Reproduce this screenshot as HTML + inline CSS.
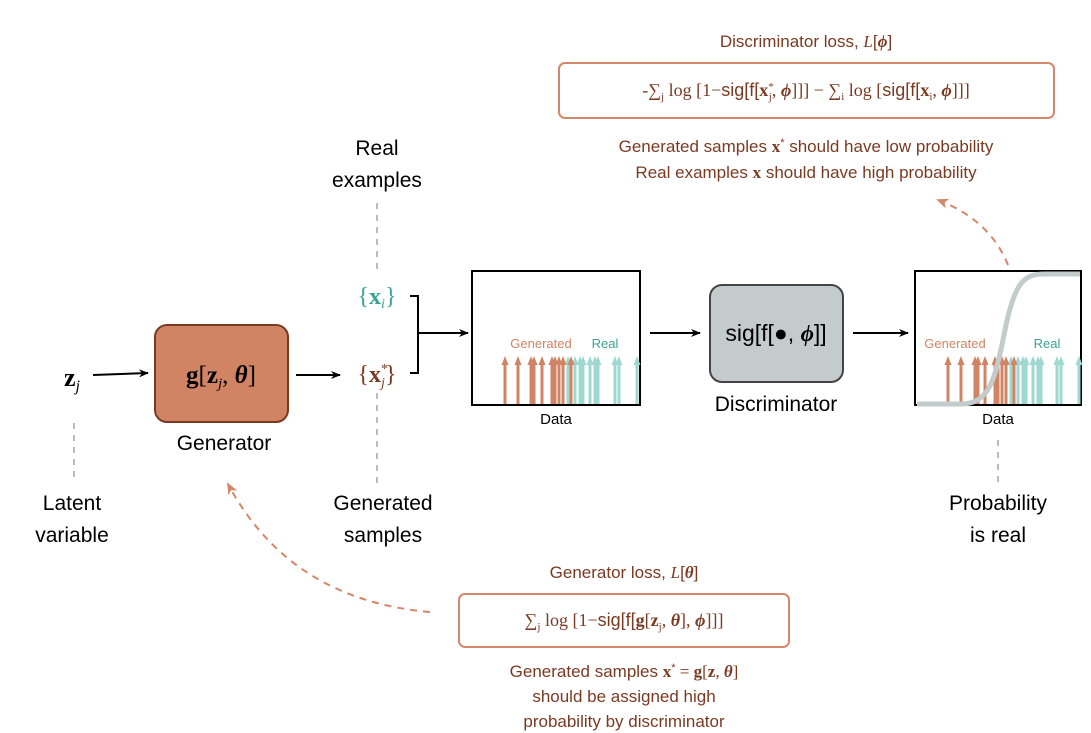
<!DOCTYPE html>
<html><head><meta charset="utf-8"><style>
body{margin:0;background:#fff;}
svg{display:block;font-family:"Liberation Sans",sans-serif;}
.m{font-family:"Liberation Serif",serif;}
</style></head><body>
<svg width="1091" height="733" viewBox="0 0 1091 733">
<defs>
<marker id="ak" markerWidth="10" markerHeight="8" refX="9" refY="4" orient="auto" markerUnits="userSpaceOnUse"><path d="M0,0 L10,4 L0,8 L3,4z" fill="#000"/></marker>
<marker id="ao" markerWidth="12" markerHeight="10" refX="10" refY="5" orient="auto" markerUnits="userSpaceOnUse"><path d="M0,0 L12,5 L0,10 L3,5z" fill="#d4876a"/></marker>
<marker id="ho" markerWidth="9" markerHeight="7" refX="1" refY="3.5" orient="auto" markerUnits="userSpaceOnUse"><path d="M0,0 L9,3.5 L0,7z" fill="#d08464"/></marker>
<marker id="ht" markerWidth="9" markerHeight="7" refX="1" refY="3.5" orient="auto" markerUnits="userSpaceOnUse"><path d="M0,0 L9,3.5 L0,7z" fill="#9fd8d1"/></marker>
</defs>

<!-- top loss -->
<text x="806" y="47" font-size="17" fill="#7a3a22" text-anchor="middle">Discriminator loss, <tspan class="m" font-style="italic">L</tspan>[<tspan class="m" font-weight="bold" font-style="italic">ϕ</tspan>]</text>
<rect x="559" y="63" width="495" height="55" rx="6" fill="#fff" stroke="#d4876a" stroke-width="2"/>
<text x="806" y="96" font-size="18" fill="#7a3a22" text-anchor="middle" class="m">-∑<tspan font-size="11" dy="4">j</tspan><tspan dy="-4"> log [1−</tspan><tspan font-family="Liberation Sans">sig[f[</tspan><tspan font-weight="bold">x</tspan><tspan font-size="11" dy="-6">*</tspan><tspan font-size="11" dx="-5" dy="10">j</tspan><tspan dy="-4">, </tspan><tspan font-weight="bold" font-style="italic">ϕ</tspan>]]] − ∑<tspan font-size="11" dy="4">i</tspan><tspan dy="-4"> log [</tspan><tspan font-family="Liberation Sans">sig[f[</tspan><tspan font-weight="bold">x</tspan><tspan font-size="11" dy="4">i</tspan><tspan dy="-4">, </tspan><tspan font-weight="bold" font-style="italic">ϕ</tspan>]]]</text>
<text x="806" y="152" font-size="17" fill="#7a3a22" text-anchor="middle">Generated samples <tspan class="m" font-weight="bold">x</tspan><tspan font-size="11" dy="-6">*</tspan><tspan dy="6"> should have low probability</tspan></text>
<text x="806" y="178" font-size="17" fill="#7a3a22" text-anchor="middle">Real examples <tspan class="m" font-weight="bold">x</tspan> should have high probability</text>
<path d="M1008,265 Q990,220 938,200" fill="none" stroke="#d4876a" stroke-width="2" stroke-dasharray="7,6" marker-end="url(#ao)"/>

<!-- real examples -->
<text x="377" y="155" font-size="21" text-anchor="middle">Real</text>
<text x="377" y="187" font-size="21" text-anchor="middle">examples</text>
<line x1="377" y1="203" x2="377" y2="270" stroke="#bbb" stroke-width="2" stroke-dasharray="6,6"/>
<text x="377" y="304" font-size="24" fill="#3aa392" text-anchor="middle" class="m">{<tspan font-weight="bold">x</tspan><tspan font-size="14" dy="4" font-style="italic">i</tspan><tspan dy="-4">}</tspan></text>
<text x="377" y="382" font-size="24" fill="#7a3a22" text-anchor="middle" class="m">{<tspan font-weight="bold">x</tspan><tspan font-size="14" dy="-9">*</tspan><tspan font-size="14" dx="-7" dy="14" font-style="italic">j</tspan><tspan dy="-5">}</tspan></text>
<line x1="377" y1="393" x2="377" y2="485" stroke="#bbb" stroke-width="2" stroke-dasharray="6,6"/>
<text x="383" y="510" font-size="21" text-anchor="middle">Generated</text>
<text x="383" y="542" font-size="21" text-anchor="middle">samples</text>
<path d="M410,296 H418 V373 H410" fill="none" stroke="#000" stroke-width="2"/>
<line x1="418" y1="333" x2="468" y2="333" stroke="#000" stroke-width="2" marker-end="url(#ak)"/>

<!-- latent -->
<text x="72" y="386" font-size="26" text-anchor="middle" class="m" font-weight="bold">z<tspan font-size="16" dy="5" font-style="italic" font-weight="normal">j</tspan></text>
<line x1="93" y1="375" x2="148" y2="373" stroke="#000" stroke-width="2" marker-end="url(#ak)"/>
<line x1="74" y1="423" x2="74" y2="478" stroke="#bbb" stroke-width="2" stroke-dasharray="6,6"/>
<text x="72" y="510" font-size="21" text-anchor="middle">Latent</text>
<text x="72" y="542" font-size="21" text-anchor="middle">variable</text>

<!-- generator -->
<rect x="155" y="325" width="133" height="97" rx="12" fill="#d08464" stroke="#7a3a22" stroke-width="2"/>
<text x="221" y="383" font-size="25" text-anchor="middle" class="m"><tspan font-weight="bold">g</tspan>[<tspan font-weight="bold">z</tspan><tspan font-size="15" dy="5" font-style="italic">j</tspan><tspan dy="-5">, </tspan><tspan font-weight="bold" font-style="italic">θ</tspan>]</text>
<text x="224" y="450" font-size="21" text-anchor="middle">Generator</text>
<line x1="296" y1="375" x2="340" y2="375" stroke="#000" stroke-width="2" marker-end="url(#ak)"/>

<!-- plot 1 -->
<rect x="472" y="271" width="168" height="134" fill="#fff" stroke="#000" stroke-width="2"/>
<g stroke-width="3">
<g stroke="#9fd8d1" marker-end="url(#ht)">
<line x1="568" y1="404" x2="568" y2="364"/><line x1="575" y1="404" x2="575" y2="364"/><line x1="580" y1="404" x2="580" y2="364"/><line x1="583" y1="404" x2="583" y2="364"/><line x1="590" y1="404" x2="590" y2="364"/><line x1="595" y1="404" x2="595" y2="364"/><line x1="598" y1="404" x2="598" y2="364"/><line x1="615" y1="404" x2="615" y2="364"/><line x1="619" y1="404" x2="619" y2="364"/><line x1="637" y1="404" x2="637" y2="364"/>
</g>
<g stroke="#d08464" marker-end="url(#ho)">
<line x1="505" y1="404" x2="505" y2="364"/><line x1="518" y1="404" x2="518" y2="364"/><line x1="531" y1="404" x2="531" y2="364"/><line x1="534" y1="404" x2="534" y2="364"/><line x1="542" y1="404" x2="542" y2="364"/><line x1="552" y1="404" x2="552" y2="364"/><line x1="555" y1="404" x2="555" y2="364"/><line x1="559" y1="404" x2="559" y2="364"/><line x1="563" y1="404" x2="563" y2="364"/><line x1="571" y1="404" x2="571" y2="364"/>
</g></g>
<text x="541" y="348" font-size="13" fill="#d08464" text-anchor="middle">Generated</text>
<text x="605" y="348" font-size="13" fill="#3aa392" text-anchor="middle">Real</text>
<text x="556" y="424" font-size="15" text-anchor="middle">Data</text>
<line x1="650" y1="333" x2="700" y2="333" stroke="#000" stroke-width="2" marker-end="url(#ak)"/>

<!-- discriminator -->
<rect x="710" y="285" width="133" height="97" rx="12" fill="#c4cbcd" stroke="#444" stroke-width="2"/>
<text x="776" y="341" font-size="23" text-anchor="middle">sig[f[●, <tspan class="m" font-weight="bold" font-style="italic">ϕ</tspan>]]</text>
<text x="776" y="411" font-size="21" text-anchor="middle">Discriminator</text>
<line x1="853" y1="333" x2="908" y2="333" stroke="#000" stroke-width="2" marker-end="url(#ak)"/>

<!-- plot 2 -->
<rect x="915" y="271" width="166" height="134" fill="#fff" stroke="#000" stroke-width="2"/>
<g stroke-width="3">
<g stroke="#9fd8d1" marker-end="url(#ht)">
<line x1="1011" y1="404" x2="1011" y2="364"/><line x1="1018" y1="404" x2="1018" y2="364"/><line x1="1023" y1="404" x2="1023" y2="364"/><line x1="1026" y1="404" x2="1026" y2="364"/><line x1="1033" y1="404" x2="1033" y2="364"/><line x1="1038" y1="404" x2="1038" y2="364"/><line x1="1041" y1="404" x2="1041" y2="364"/><line x1="1057" y1="404" x2="1057" y2="364"/><line x1="1061" y1="404" x2="1061" y2="364"/><line x1="1079" y1="404" x2="1079" y2="364"/>
</g>
<g stroke="#d08464" marker-end="url(#ho)">
<line x1="948" y1="404" x2="948" y2="364"/><line x1="961" y1="404" x2="961" y2="364"/><line x1="975" y1="404" x2="975" y2="364"/><line x1="978" y1="404" x2="978" y2="364"/><line x1="985" y1="404" x2="985" y2="364"/><line x1="995" y1="404" x2="995" y2="364"/><line x1="998" y1="404" x2="998" y2="364"/><line x1="1002" y1="404" x2="1002" y2="364"/><line x1="1006" y1="404" x2="1006" y2="364"/><line x1="1014" y1="404" x2="1014" y2="364"/>
</g></g>
<path d="M917,404 L960,404 C990,404 995,380 1005,330 C1015,280 1025,274 1045,274 L1080,274" fill="none" stroke="#c4cbcd" stroke-width="5"/>
<text x="955" y="348" font-size="13" fill="#d08464" text-anchor="middle">Generated</text>
<text x="1047" y="348" font-size="13" fill="#3aa392" text-anchor="middle">Real</text>
<text x="998" y="424" font-size="15" text-anchor="middle">Data</text>
<line x1="998" y1="440" x2="998" y2="482" stroke="#bbb" stroke-width="2" stroke-dasharray="6,6"/>
<text x="998" y="510" font-size="21" text-anchor="middle">Probability</text>
<text x="998" y="542" font-size="21" text-anchor="middle">is real</text>

<!-- generator loss -->
<text x="624" y="578" font-size="17" fill="#7a3a22" text-anchor="middle">Generator loss, <tspan class="m" font-style="italic">L</tspan>[<tspan class="m" font-weight="bold" font-style="italic">θ</tspan>]</text>
<rect x="459" y="594" width="330" height="53" rx="6" fill="#fff" stroke="#d4876a" stroke-width="2"/>
<text x="624" y="626" font-size="18" fill="#7a3a22" text-anchor="middle" class="m">∑<tspan font-size="11" dy="4">j</tspan><tspan dy="-4"> log [1−</tspan><tspan font-family="Liberation Sans">sig[f[</tspan><tspan font-weight="bold">g</tspan>[<tspan font-weight="bold">z</tspan><tspan font-size="11" dy="4">j</tspan><tspan dy="-4">, </tspan><tspan font-weight="bold" font-style="italic">θ</tspan>], <tspan font-weight="bold" font-style="italic">ϕ</tspan>]]]</text>
<text x="624" y="677" font-size="17" fill="#7a3a22" text-anchor="middle">Generated samples <tspan class="m" font-weight="bold">x</tspan><tspan font-size="11" dy="-6">*</tspan><tspan dy="6" class="m"> = </tspan><tspan class="m" font-weight="bold">g</tspan><tspan class="m">[</tspan><tspan class="m" font-weight="bold">z</tspan><tspan class="m">, </tspan><tspan class="m" font-weight="bold" font-style="italic">θ</tspan><tspan class="m">]</tspan></text>
<text x="624" y="702" font-size="17" fill="#7a3a22" text-anchor="middle">should be assigned high</text>
<text x="624" y="727" font-size="17" fill="#7a3a22" text-anchor="middle">probability by discriminator</text>
<path d="M430,612 Q290,600 228,484" fill="none" stroke="#d4876a" stroke-width="2" stroke-dasharray="7,6" marker-end="url(#ao)"/>
</svg>
</body></html>
